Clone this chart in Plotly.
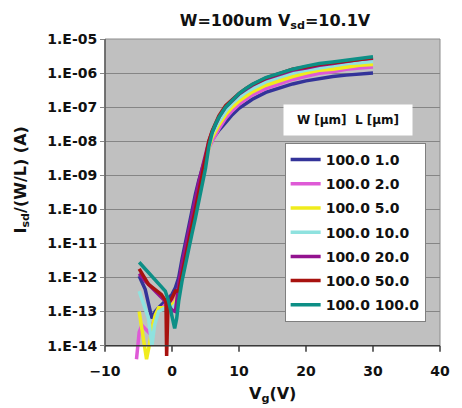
import math
import plotly.graph_objects as go

# ---- data -----------------------------------------------------------------
W_UM = ["100.0"] * 7
L_UM = ["1.0", "2.0", "5.0", "10.0", "20.0", "50.0", "100.0"]
COLORS = ["#333399", "#de5ad6", "#f0ec1c", "#8fe2df", "#93138f", "#a8120f", "#0d8f86"]

# Gate voltage of the above-threshold part (shared by every device)
VG_ON = [1, 1.5, 2, 2.5, 3, 3.5, 4, 4.5, 5, 5.5, 6, 6.5, 7, 8, 9, 10, 11, 12,
         14, 16, 18, 20, 22, 24, 26, 28, 30]

# Off-state gate voltages and currents Isd/(W/L) in A, per channel length
VG_OFF = {
    "1.0":   [-4.9, -4.0, -3.0, -2.5, -2.0, -1.0, 0.0, 0.5],
    "2.0":   [-5.3, -5.1, -4.9, -4.5, -4.0, -3.5, -3.0, -2.5, -2.0, -1.0, 0.0, 0.5],
    "5.0":   [-4.9, -4.5, -4.1, -3.8, -3.4, -3.0, -2.5, -2.0, -1.0, 0.0, 0.5],
    "10.0":  [-4.9, -4.2, -3.5, -3.0, -2.6, -2.0, -1.0, 0.0, 0.5],
    "20.0":  [-4.9, -4.0, -3.0, -2.0, -1.0, 0.0, 0.5, 0.7],
    "50.0":  [-4.9, -3.5, -1.6, -0.9, -0.8, -0.6, 0.0, 0.5],
    "100.0": [-4.9, -4.0, -3.0, -2.0, -1.0, -0.5, 0.0, 0.4, 0.7],
}
I_OFF = {
    "1.0":   [1.1e-12, 4.5e-13, 6.3e-14, 1.0e-13, 1.3e-13, 2.0e-13, 3.2e-13, 5.0e-13],
    "2.0":   [4.0e-15, 1.0e-14, 2.5e-14, 4.0e-14, 3.2e-14, 2.5e-14, 4.0e-14, 6.3e-14,
              1.0e-13, 1.6e-13, 2.0e-13, 2.5e-13],
    "5.0":   [1.0e-13, 3.2e-14, 1.0e-14, 4.0e-15, 1.0e-14, 3.2e-14, 7.9e-14, 1.3e-13,
              1.3e-13, 1.6e-13, 2.0e-13],
    "10.0":  [4.0e-13, 1.6e-13, 6.3e-14, 1.0e-14, 4.0e-14, 1.0e-13, 1.3e-13, 1.3e-13, 1.6e-13],
    "20.0":  [1.3e-12, 7.9e-13, 5.0e-13, 3.2e-13, 2.0e-13, 1.1e-13, 1.0e-13, 2.0e-13],
    "50.0":  [1.8e-12, 6.3e-13, 3.2e-13, 2.0e-13, 5.0e-15, 1.6e-13, 2.5e-13, 4.0e-13],
    "100.0": [2.8e-12, 1.8e-12, 1.1e-12, 7.1e-13, 4.0e-13, 2.0e-13, 6.3e-14, 3.2e-14, 6.3e-14],
}
I_ON = {
    "1.0":   [1.0e-12, 3.5e-12, 1.1e-11, 3.5e-11, 1.0e-10, 2.8e-10, 7.1e-10, 1.6e-09,
              3.5e-09, 7.1e-09, 1.1e-08, 1.6e-08, 2.1e-08, 3.5e-08, 6.0e-08, 9.3e-08,
              1.3e-07, 1.7e-07, 2.7e-07, 3.7e-07, 4.8e-07, 5.9e-07, 6.9e-07, 7.9e-07,
              8.7e-07, 9.3e-07, 1.0e-06],
    "2.0":   [5.0e-13, 2.0e-12, 6.3e-12, 2.0e-11, 6.3e-11, 1.8e-10, 5.0e-10, 1.3e-09,
              3.2e-09, 6.3e-09, 1.0e-08, 1.6e-08, 2.3e-08, 4.7e-08, 7.9e-08, 1.2e-07,
              1.7e-07, 2.3e-07, 3.5e-07, 4.9e-07, 6.5e-07, 8.1e-07, 9.8e-07, 1.1e-06,
              1.3e-06, 1.4e-06, 1.5e-06],
    "5.0":   [4.0e-13, 1.4e-12, 4.5e-12, 1.4e-11, 4.5e-11, 1.4e-10, 4.0e-10, 1.1e-09,
              3.0e-09, 6.3e-09, 1.3e-08, 2.0e-08, 3.0e-08, 6.0e-08, 1.0e-07, 1.5e-07,
              2.1e-07, 2.8e-07, 4.4e-07, 6.0e-07, 7.9e-07, 1.0e-06, 1.2e-06, 1.3e-06,
              1.5e-06, 1.7e-06, 1.8e-06],
    "10.0":  [3.2e-13, 1.0e-12, 3.2e-12, 1.0e-11, 2.8e-11, 7.9e-11, 2.2e-10, 7.1e-10,
              2.2e-09, 7.1e-09, 1.6e-08, 2.5e-08, 3.8e-08, 7.6e-08, 1.3e-07, 1.9e-07,
              2.7e-07, 3.5e-07, 5.5e-07, 7.6e-07, 1.0e-06, 1.2e-06, 1.4e-06, 1.7e-06,
              1.9e-06, 2.0e-06, 2.2e-06],
    "20.0":  [6.3e-13, 2.5e-12, 7.9e-12, 2.5e-11, 7.9e-11, 2.0e-10, 6.3e-10, 1.6e-09,
              4.0e-09, 1.0e-08, 1.9e-08, 3.2e-08, 5.0e-08, 1.0e-07, 1.6e-07, 2.4e-07,
              3.3e-07, 4.4e-07, 6.8e-07, 9.1e-07, 1.2e-06, 1.4e-06, 1.7e-06, 1.9e-06,
              2.2e-06, 2.5e-06, 2.7e-06],
    "50.0":  [4.0e-13, 1.3e-12, 4.5e-12, 1.3e-11, 3.5e-11, 1.0e-10, 3.2e-10, 1.0e-09,
              3.2e-09, 1.0e-08, 2.0e-08, 3.5e-08, 5.6e-08, 1.1e-07, 1.7e-07, 2.5e-07,
              3.5e-07, 4.6e-07, 7.1e-07, 9.5e-07, 1.3e-06, 1.5e-06, 1.8e-06, 2.0e-06,
              2.3e-06, 2.5e-06, 2.8e-06],
    "100.0": [2.0e-13, 7.9e-13, 2.5e-12, 7.9e-12, 2.0e-11, 5.6e-11, 1.6e-10, 5.0e-10,
              1.6e-09, 7.1e-09, 1.8e-08, 3.2e-08, 5.0e-08, 1.0e-07, 1.6e-07, 2.5e-07,
              3.5e-07, 4.7e-07, 7.4e-07, 1.0e-06, 1.3e-06, 1.6e-06, 1.9e-06, 2.1e-06,
              2.4e-06, 2.7e-06, 3.0e-06],
}

X_TICKS = [-10, 0, 10, 20, 30, 40]
Y_TICKS = [1e-14, 1e-13, 1e-12, 1e-11, 1e-10, 1e-9, 1e-8, 1e-7, 1e-6, 1e-5]
Y_TICKTEXT = ["1.E-14", "1.E-13", "1.E-12", "1.E-11", "1.E-10",
              "1.E-09", "1.E-08", "1.E-07", "1.E-06", "1.E-05"]

# ---- layout constants -------------------------------------------------------
FONT = "DejaVu Sans"
X_MIN, X_MAX = -10, 40
Y_LOG_MIN, Y_LOG_MAX = -14.45, -5      # a little room below 1E-14 for the dips
Y_FLOOR = 1e-14


def ydom(v):
    return (math.log10(v) - Y_LOG_MIN) / (Y_LOG_MAX - Y_LOG_MIN)


def xdom(v):
    return (v - X_MIN) / (X_MAX - X_MIN)


fig = go.Figure()
for w, l, c in zip(W_UM, L_UM, COLORS):
    fig.add_trace(go.Scatter(
        x=VG_OFF[l] + VG_ON,
        y=I_OFF[l] + I_ON[l],
        mode="lines",
        name=f"{w} {l}",
        legendgroup=l,
        line=dict(color=c, width=3.5),
    ))

floor = ydom(Y_FLOOR)
shapes = [
    # grey plot panel from 1E-14 up to 1E-05
    dict(type="rect", xref="x domain", yref="y domain", x0=0, x1=1, y0=floor, y1=1,
         fillcolor="#c0c0c0", line=dict(color="#8c8c8c", width=1), layer="below"),
    # value axis and category axis lines
    dict(type="line", xref="x domain", yref="y domain", x0=0, x1=1, y0=floor, y1=floor,
         line=dict(color="#3a3a3a", width=1.5), layer="above"),
    dict(type="line", xref="x domain", yref="y domain", x0=0, x1=0, y0=floor, y1=1,
         line=dict(color="#5a5a5a", width=1.5), layer="above"),
]
for t in X_TICKS:
    shapes.append(dict(type="line", xref="x domain", yref="y domain",
                       x0=xdom(t), x1=xdom(t), y0=floor, y1=floor - 6 / 322,
                       line=dict(color="#3a3a3a", width=1.5)))

fig.update_layout(
    width=462, height=408,
    margin=dict(l=105, r=12, t=39, b=47),
    paper_bgcolor="white", plot_bgcolor="white",
    font=dict(family=FONT, size=14, color="#111111", weight="bold"),
    title=dict(text="W=100um V<sub>sd</sub>=10.1V", x=275 / 462, xanchor="center",
               xref="container", yref="container", y=1 - 20 / 408, yanchor="middle",
               font=dict(family=FONT, size=16, weight="bold", color="#111111")),
    xaxis=dict(range=[X_MIN, X_MAX], tickvals=X_TICKS, showgrid=False, zeroline=False,
               showline=False, ticks="", tickfont=dict(size=14)),
    yaxis=dict(type="log", range=[Y_LOG_MIN, Y_LOG_MAX], tickvals=Y_TICKS,
               ticktext=Y_TICKTEXT, showgrid=True, gridcolor="#858585", gridwidth=1,
               zeroline=False, showline=False, ticks="outside", ticklen=4,
               tickcolor="#858585", tickfont=dict(size=14)),
    legend=dict(x=(290 - 105) / 345, y=(361 - 143) / 322, xanchor="left", yanchor="top",
                bgcolor="white", bordercolor="#7f7f7f", borderwidth=1,
                font=dict(family=FONT, size=14, weight="bold", color="#111111"),
                tracegroupgap=3, itemwidth=30),
    shapes=shapes,
    annotations=[
        dict(text="W [µm]  L [µm]", xref="paper", yref="paper",
             x=(355 - 105) / 345, y=(361 - 120) / 322, xanchor="center", yanchor="middle",
             showarrow=False, bgcolor="white", width=128, height=30, borderpad=0,
             font=dict(family=FONT, size=12, weight="bold", color="#111111")),
        dict(text="I<sub>sd</sub>/(W/L) (A)", xref="paper", yref="paper",
             x=(18 - 105) / 345, y=(361 - 180) / 322, xanchor="center", yanchor="middle",
             textangle=-90, showarrow=False,
             font=dict(family=FONT, size=16, weight="bold", color="#111111")),
        dict(text="V<sub>g</sub>(V)", xref="paper", yref="paper",
             x=0.5, y=(361 - 407) / 322, xanchor="center", yanchor="bottom",
             showarrow=False,
             font=dict(family=FONT, size=16, weight="bold", color="#111111")),
    ],
)

fig.write_html("out.html")
